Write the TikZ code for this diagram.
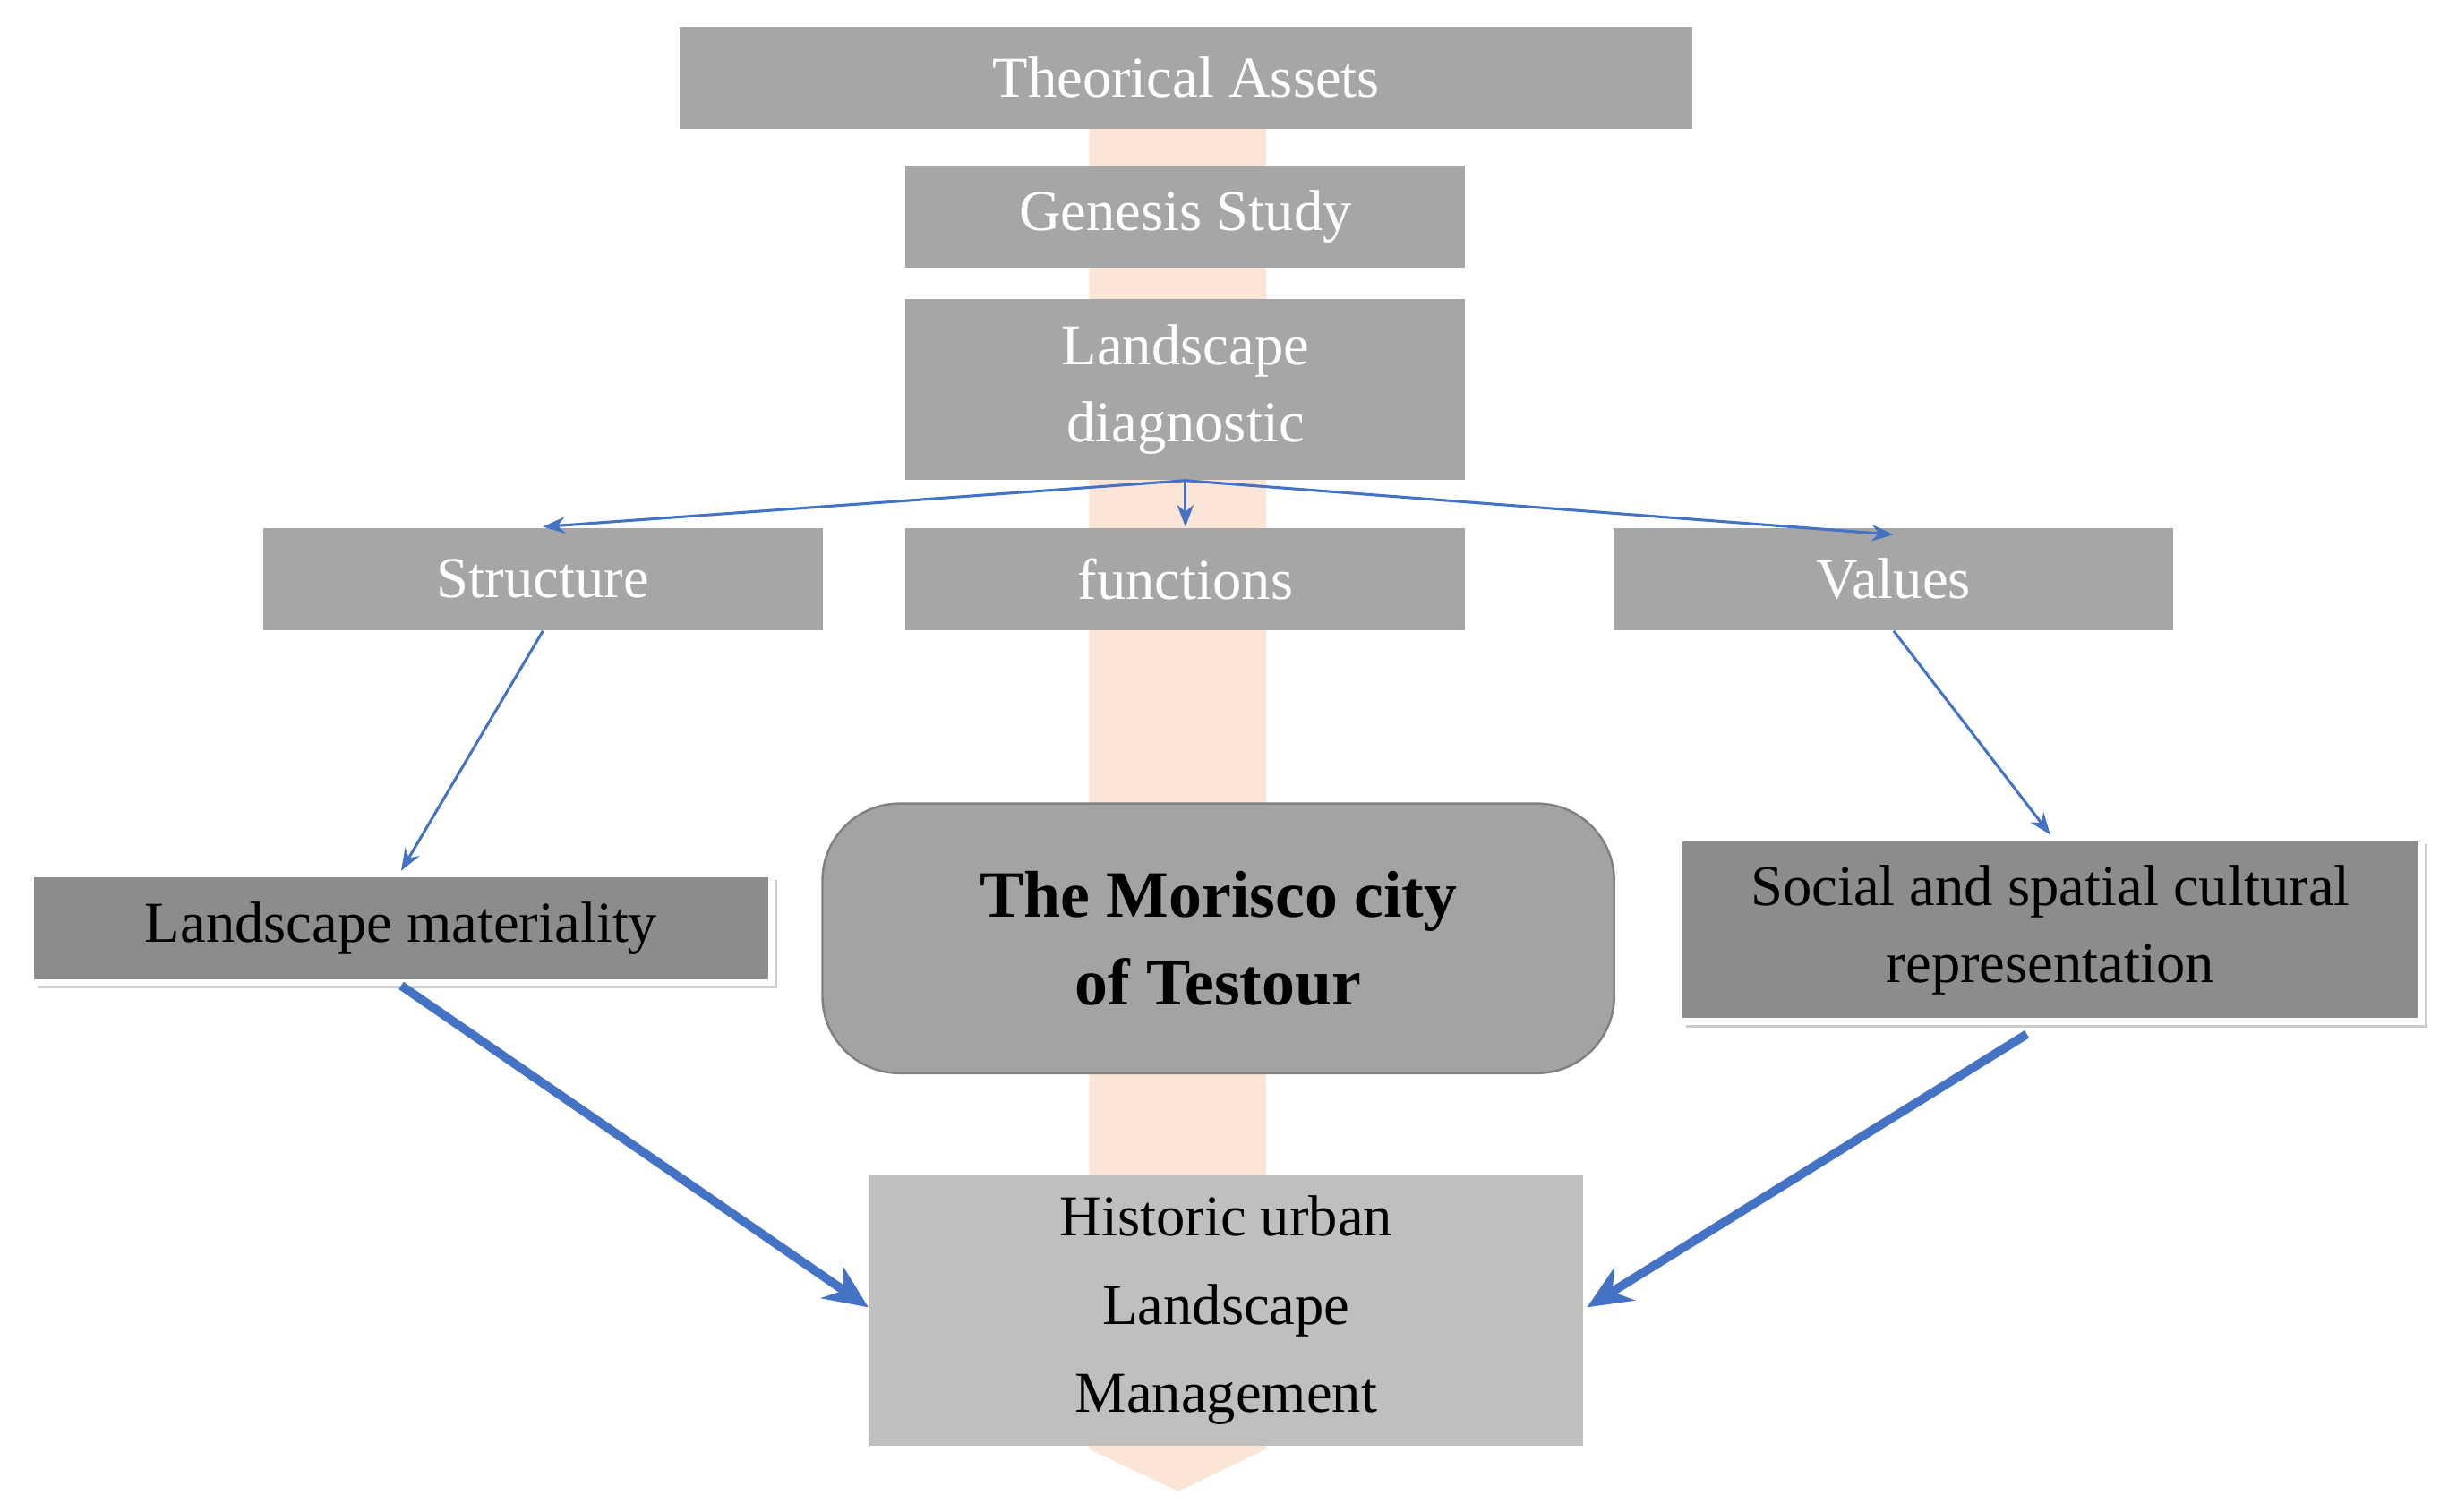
\documentclass[tikz,border=0pt]{standalone}
\usepackage{fontspec}
\setmainfont{Liberation Serif}
\usetikzlibrary{calc,shapes.geometric,arrows.meta}
\definecolor{boxgray}{HTML}{A6A6A6}
\definecolor{darkbox}{HTML}{8C8C8C}
\definecolor{lightbox}{HTML}{BFBFBF}
\definecolor{peach}{HTML}{FBE5D6}
\definecolor{linkblue}{HTML}{4472C4}
\begin{document}
\begin{tikzpicture}[x=0.01cm,y=-0.01cm,
	graybox/.style={fill=boxgray, text=white, inner sep=0pt, font=\fontsize{10.5}{14}\selectfont},
	shadebox/.style={fill=darkbox, draw=white, line width=1.2pt, inner sep=0pt, text=black, font=\fontsize{10.5}{14}\selectfont},
	thinlink/.style={linkblue, line width=0.5pt, -{Stealth[length=4pt]}},
	thicklink/.style={linkblue, line width=1.6pt, -{Stealth[length=8pt,width=7pt]}}]
	\useasboundingbox (0,0) rectangle (1568,965);
	
	% background arrow
	\fill[peach] (695,82) -- (808,82) -- (808,925) -- (752,952) -- (695,925) -- cycle;
	
	\node[graybox, minimum width=6.46cm, minimum height=0.65cm] (assets) at (757,49.5) {Theorical Assets};
	\node[graybox, minimum width=3.57cm, minimum height=0.65cm] (genesis) at (756.5,138.5) {Genesis Study};
	\node[graybox, minimum width=3.57cm, minimum height=1.15cm, align=center] (diag) at (756.5,248.5) {Landscape\\diagnostic};
	\node[graybox, minimum width=3.57cm, minimum height=0.65cm] (structure) at (346.5,369.5) {Structure};
	\node[graybox, minimum width=3.57cm, minimum height=0.65cm] (functions) at (756.5,369.5) {functions};
	\node[graybox, minimum width=3.57cm, minimum height=0.65cm] (values) at (1208.5,369.5) {Values};
	
	\fill[gray!40] (24,562) rectangle (496,631);
	\node[shadebox, minimum width=4.72cm, minimum height=0.69cm] (material) at (256,592.5) {Landscape materiality};
	\fill[gray!40] (1076,539) rectangle (1549,656);
	\node[shadebox, minimum width=4.73cm, minimum height=1.17cm, align=center] (social) at (1308.5,593.5) {Social and spatial cultural\\representation};
	\node[fill=darkbox!80, draw=gray, rounded corners=14pt, minimum width=5.05cm, minimum height=1.72cm, align=center, font=\fontsize{12}{16}\selectfont\bfseries] (morisco) at (777.5,599) {The Morisco city\\of Testour};
	\node[fill=lightbox, inner sep=0pt, minimum width=4.55cm, minimum height=1.73cm, align=center, font=\fontsize{10.5}{16}\selectfont] (hul) at (782.5,836.5) {Historic urban\\Landscape\\Management};
	
	\draw[thinlink] (diag.south) -- (structure.north);
	\draw[thinlink] (diag.south) -- (functions.north);
	\draw[thinlink] (diag.south) -- ($(values.north)+(0,5)$);
	\draw[thinlink] (structure.south) -- (material.north);
	\draw[thinlink] (values.south) -- (social.north);
	\draw[thicklink] (material.south) -- ($(hul.west)+(0,-2)$);
	\draw[thicklink] ($(social.south)+(-15,6)$) -- ($(hul.east)+(2,-2)$);
\end{tikzpicture}
\end{document}
